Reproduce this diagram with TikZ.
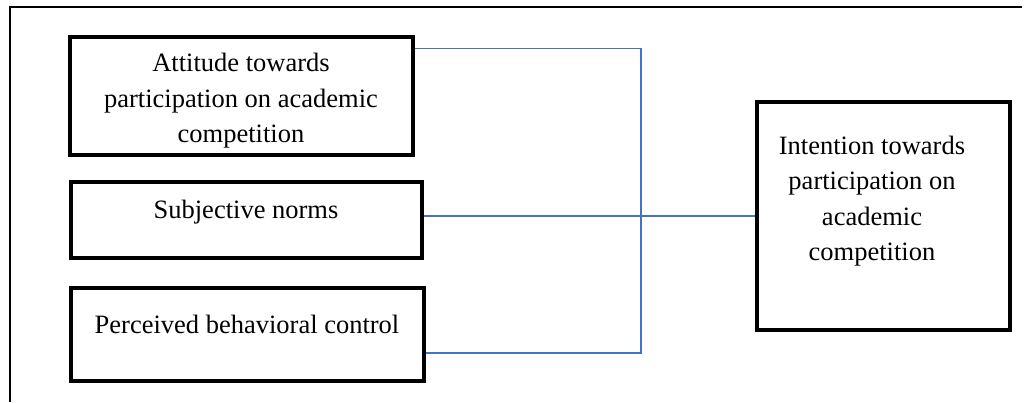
\documentclass[tikz,border=0pt]{standalone}
\usepackage{fontspec}
\setmainfont{Liberation Serif}
\definecolor{linkblue}{RGB}{68,114,196}
\begin{document}
\begin{tikzpicture}[x=0.5pt, y=-0.5pt,
  factor/.style={draw, line width=2.1pt, inner sep=0pt},
  lbl/.style={align=center, inner sep=0pt, font=\fontsize{13.25}{17.75}\selectfont},
  link/.style={draw=linkblue, line width=0.6pt}]
  \useasboundingbox (0,0) rectangle (1026,402);
  \draw[line width=1pt] (1022,7) -- (10,7) -- (10,402);
  \node[factor, minimum width=171.5pt, minimum height=59pt] (att) at (241.5,96) {};
  \node[factor, minimum width=175.5pt, minimum height=38pt] (sn) at (246.5,220) {};
  \node[factor, minimum width=176.5pt, minimum height=46.5pt] (pbc) at (247.5,334.5) {};
  \node[factor, minimum width=126.5pt, minimum height=114pt] (int) at (883.5,216) {};
  \node[lbl] (att-t) at (241,101) {Attitude towards\\participation on academic\\competition};
  \node[lbl] (sn-t) at (246,212) {Subjective norms};
  \node[lbl] (pbc-t) at (247,324) {Perceived behavioral control};
  \node[lbl] (int-t) at (872,201) {Intention towards\\participation on\\academic\\competition};
  \coordinate (jt) at (641,48.5);
  \coordinate (jb) at (641,353);
  \draw[link] (att.east |- jt) -- (jt) -- (jb) -- (pbc.east |- jb);
  \draw[link] (sn.east |- int.west) -- (int.west);
\end{tikzpicture}
\end{document}
